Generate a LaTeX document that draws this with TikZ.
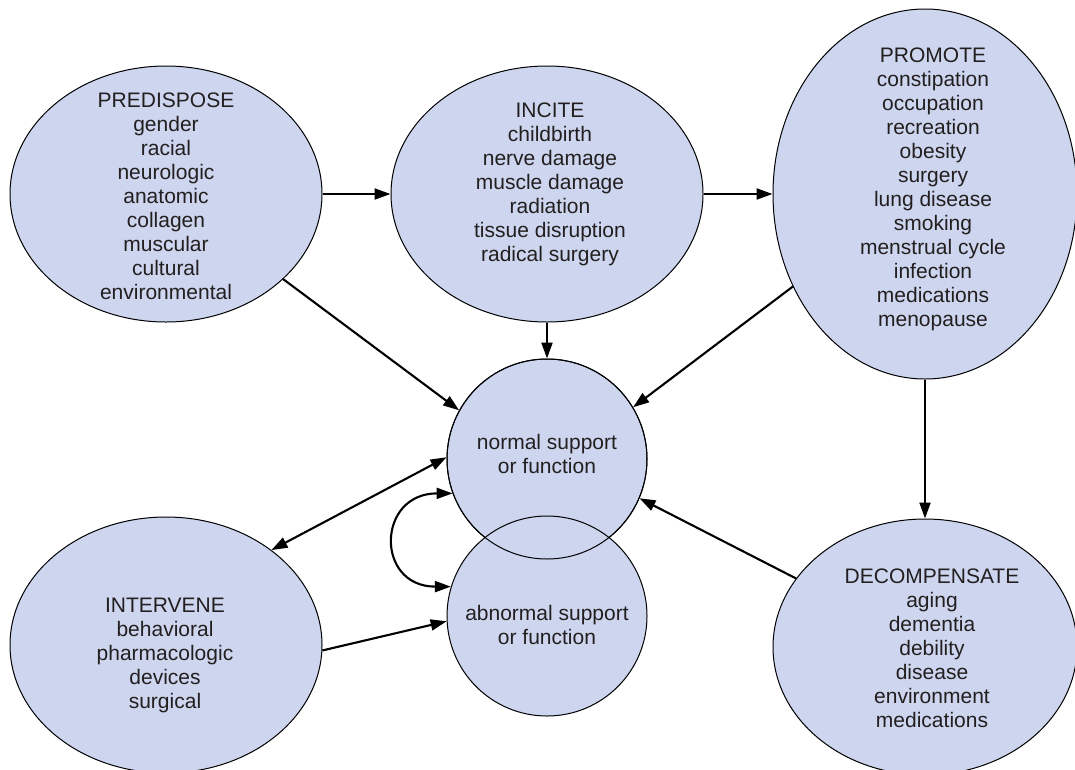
\documentclass[tikz,border=0pt]{standalone}
\usepackage{fontspec}
\setmainfont{Liberation Sans}
\usetikzlibrary{arrows.meta,shapes.geometric}
\definecolor{bubble}{RGB}{205,214,238}
\definecolor{ink}{RGB}{35,31,32}
\begin{document}
\begin{tikzpicture}[x=1pt,y=1pt,
  blob/.style={ellipse, draw=black, line width=1pt, fill=bubble, inner sep=0pt},
  disc/.style={circle, draw=black, line width=1pt, fill=bubble, inner sep=0pt, minimum size=200pt},
  words/.style={align=center, inner sep=0pt, text=ink, font=\fontsize{21}{24}\selectfont},
  arr/.style={line width=2.1pt, -{Triangle[length=16pt,width=11pt]}},
  darr/.style={line width=2.1pt, {Triangle[length=16pt,width=11pt]}-{Triangle[length=16pt,width=11pt]}}]
\useasboundingbox (0,0) rectangle (1075,-769);

% factor bubbles
\node[blob, minimum width=312pt, minimum height=256pt] (pre) at (166,-194) {};
\node[blob, minimum width=312pt, minimum height=256pt] (inc) at (547,-194) {};
\node[blob, minimum width=304pt, minimum height=370pt] (pro) at (925,-194) {};
\node[blob, minimum width=312pt, minimum height=256pt] (int) at (166,-645) {};
\node[blob, minimum width=304pt, minimum height=256pt] (dec) at (925,-647) {};

% overlapping support circles, outlines redrawn so both rims show
\node[disc] (nor) at (547,-459) {};
\node[disc] (abn) at (547,-616) {};
\node[disc, fill=none] (norRim) at (547,-459) {};

% connectors
\draw[arr] (pre) -- (inc);
\draw[arr] (inc) -- (pro);
\draw[arr] (pre.-36) -- (nor.151);
\draw[arr] (inc.south) -- (nor.north);
\draw[arr] (pro.215) -- (nor.31);
\draw[arr] (pro.south) -- (dec.north);
\draw[arr] (dec.152) -- (nor.-23);
\draw[darr] (int.42) -- (nor.179);
\draw[arr] (int.-2) -- (abn.-177);
\draw[darr] (nor.200) .. controls +(-76,0) and +(-76,0) .. (abn.163);

% texts
\node[words] (preT) at (166,-196) {PREDISPOSE\\gender\\racial\\neurologic\\anatomic\\collagen\\muscular\\cultural\\environmental};
\node[words] (incT) at (550,-184) {INCITE\\childbirth\\nerve damage\\muscle damage\\radiation\\tissue disruption\\radical surgery};
\node[words] (proT) at (933,-189) {PROMOTE\\constipation\\occupation\\recreation\\obesity\\surgery\\lung disease\\smoking\\menstrual cycle\\infection\\medications\\menopause};
\node[words] (norT) at (547,-454) {normal support\\or function};
\node[words] (abnT) at (547,-625) {abnormal support\\or function};
\node[words] (intT) at (165,-655) {INTERVENE\\behavioral\\pharmacologic\\devices\\surgical};
\node[words] (decT) at (932,-648) {DECOMPENSATE\\aging\\dementia\\debility\\disease\\environment\\medications};
\end{tikzpicture}
\end{document}
